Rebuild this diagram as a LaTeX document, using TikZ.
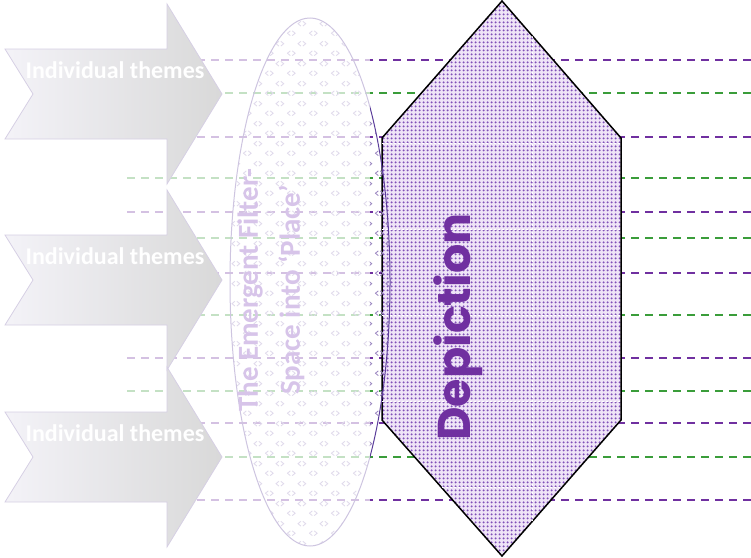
\documentclass[tikz,border=0pt]{standalone}
\usepackage{fontspec}
\newfontfamily\carlito{Carlito}
\newfontfamily\poppins{Poppins}
\usepackage{tikz}
\usetikzlibrary{patterns.meta}
\usepackage{xcolor}

\definecolor{deppurple}{HTML}{7030A0}
\definecolor{linegreen}{HTML}{3A9D3A}
\definecolor{themegray}{HTML}{808080}
\definecolor{themelight}{HTML}{DAD7E8}
\definecolor{themeedge}{HTML}{765FA5}
\definecolor{filteredge}{HTML}{5B3D9A}
\definecolor{filtertext}{HTML}{7A3CB8}
\definecolor{chevcolor}{HTML}{9A86C0}
\definecolor{dotpurple}{HTML}{8050B8}
\definecolor{dotback}{HTML}{EFE4F7}

% little < > marks for the filter lens
\tikzdeclarepattern{
  name=chevrons, type=uncolored,
  bounding box={(0,0) and (22pt,20pt)},
  tile size={(22pt,20pt)},
  code={
    \draw[line width=0.9pt] (4.5pt,2.5pt) -- (1.5pt,5pt) -- (4.5pt,7.5pt);
    \draw[line width=0.9pt] (6.5pt,2.5pt) -- (9.5pt,5pt) -- (6.5pt,7.5pt);
    \draw[line width=0.9pt] (15.5pt,12.5pt) -- (12.5pt,15pt) -- (15.5pt,17.5pt);
    \draw[line width=0.9pt] (17.5pt,12.5pt) -- (20.5pt,15pt) -- (17.5pt,17.5pt);
  }
}

\begin{document}
\begin{tikzpicture}[x=1pt, y=-1pt]
\tikzset{
  guide/.style={dash pattern=on 8pt off 6pt, line width=2pt},
  theme/.style={draw=themeedge, line width=0.8pt, left color=themelight, right color=themegray},
  themetext/.style={font=\carlito\bfseries\fontsize{24}{28}\selectfont, text=white},
  depiction/.style={draw=black, line width=1.5pt, preaction={fill=dotback},
    pattern={Dots[distance=4pt, radius=1.3pt]}, pattern color=dotpurple},
  filter/.style={draw=filteredge, line width=1pt, pattern=chevrons, pattern color=chevcolor},
  filtertext/.style={font=\carlito\bfseries\fontsize{29}{42}\selectfont, text=filtertext, align=center},
  seam/.style={white, line width=0.8pt, dash pattern=on 2pt off 2pt}
}
\useasboundingbox (0,0) rectangle (751,557);

% guide lines first, the shapes sit on top of them
\foreach \gy/\gc/\gx in {60/deppurple/197, 93/linegreen/197, 137/deppurple/197,
    178/linegreen/127, 212/deppurple/127, 238/linegreen/197, 273/deppurple/197,
    315/linegreen/197, 358/deppurple/127, 391/linegreen/127, 423/deppurple/197,
    457/linegreen/197, 500/deppurple/197}
  \draw[guide, \gc] (\gx,\gy) -- (751,\gy);

% depiction hexagon
\draw[depiction] (502,1) -- (621,138) -- (621,420) -- (502,556) -- (382,420) -- (382,138) -- cycle;
\begin{scope}
  \clip (502,1) -- (621,138) -- (621,420) -- (502,556) -- (382,420) -- (382,138) -- cycle;
  \foreach \sy in {143,229,315,401,487}
    \draw[seam] (382,\sy) -- (621,\sy);
  \draw[seam] (532,0) -- (532,557);
\end{scope}

% three theme arrows
\foreach \cy/\nm in {94/a, 280/b, 457/c}{
  \draw[theme] (5,\cy-45) -- (167,\cy-45) -- (167,\cy-90) -- (222,\cy)
    -- (167,\cy+90) -- (167,\cy+45) -- (5,\cy+45) -- (33,\cy) -- cycle;
  \node[themetext] (theme\nm) at (115,\cy-24) {Individual themes};
}

% filter lens
\path[filter] (310,282) ellipse [x radius=80, y radius=264];
\node[filtertext, rotate=90] (filterlabel) at (271,290) {The Emergent Filter-\\Space into ‘Place’};

% wash over the left half
\fill[white, opacity=0.7] (0,0) rectangle (370,557);

\node[rotate=90, font=\poppins\bfseries\fontsize{46}{50}\selectfont, text=deppurple] (deplabel) at (458,327) {Depiction};
\end{tikzpicture}
\end{document}
